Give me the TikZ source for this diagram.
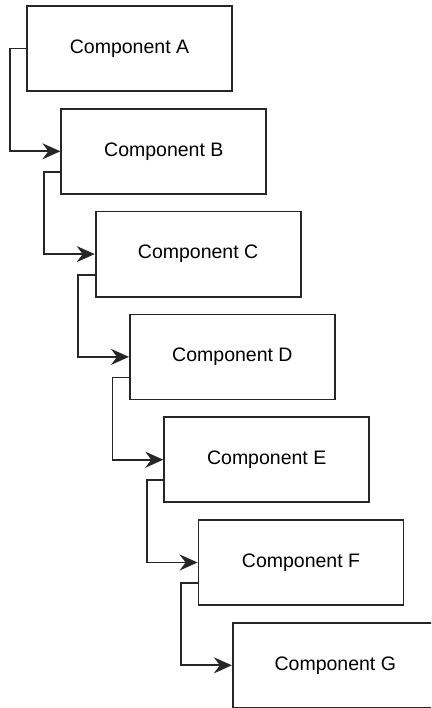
\documentclass[tikz,border=0pt]{standalone}
\usepackage{fontspec}
\setmainfont{Liberation Sans}
\usetikzlibrary{arrows.meta,calc}
\begin{document}
\begin{tikzpicture}[x=1pt,y=-1pt,
  comp/.style={draw=black!85,line width=1.8pt,fill=white,minimum width=205pt,minimum height=85pt,
    inner sep=0pt,font=\fontsize{19.5}{23}\selectfont},
  link/.style={draw=black!85,line width=1.8pt,-{Stealth[length=18pt,width=16pt,inset=6pt]}}]
\useasboundingbox (0,0) rectangle (431,708);
\clip (0,0) rectangle (431,708);
\foreach \n [count=\i from 0] in {A,B,C,D,E,F,G}{
  \node[comp] (\n) at ({27+34.3*\i+102.5},{6+102.8*\i+42.5}) {Component \n};
}
\draw[link] (A.west) -- ++(-16.5,0) |- (B.west);
\draw[link] ($(B.north west)+(0,64)$) -- ++(-16.5,0) |- (C.west);
\draw[link] ($(C.north west)+(0,64)$) -- ++(-16.5,0) |- (D.west);
\draw[link] ($(D.north west)+(0,64)$) -- ++(-16.5,0) |- (E.west);
\draw[link] ($(E.north west)+(0,64)$) -- ++(-16.5,0) |- (F.west);
\draw[link] ($(F.north west)+(0,64)$) -- ++(-16.5,0) |- (G.west);
\end{tikzpicture}
\end{document}
